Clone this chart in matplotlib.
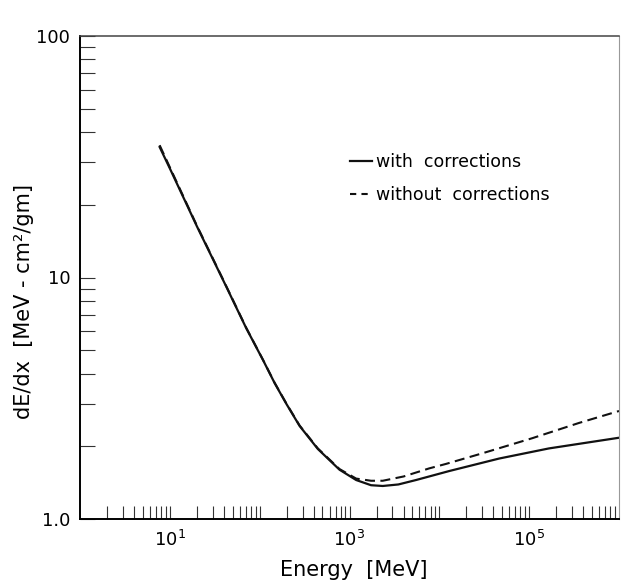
import numpy as np
import matplotlib as mpl
import matplotlib.pyplot as plt
from matplotlib.ticker import FixedLocator, FixedFormatter, NullFormatter

# values (log-log), energy in MeV, dE/dx in MeV-cm^2/gm
energy_with = [7.7, 10, 20, 40, 71, 109, 147, 198, 278, 444, 774, 1186, 1738, 2345,
               3500, 5500, 12900, 46400, 166000, 1e6]
dedx_with = [34.7, 28.3, 16.3, 9.6, 6.16, 4.55, 3.65, 3.0, 2.43, 1.95, 1.60, 1.45, 1.38, 1.37,
             1.39, 1.45, 1.58, 1.78, 1.96, 2.17]

energy_without = [7.7, 10, 20, 40, 71, 109, 147, 198, 278, 444, 774, 1186, 1738, 2345,
                  4000, 7700, 11800, 30000, 65000, 108000, 360000, 1e6]
dedx_without = [35.3, 28.6, 16.4, 9.65, 6.18, 4.56, 3.66, 3.01, 2.44, 1.96, 1.61, 1.47, 1.44, 1.44,
                1.50, 1.62, 1.69, 1.87, 2.04, 2.16, 2.50, 2.80]

x_major = [1e1, 1e3, 1e5]
x_major_labels = ['$10^{1}$', '$10^{3}$', '$10^{5}$']
y_major = [1, 10, 100]
y_major_labels = ['1.0', '10', '100']

plt.rcParams['font.family'] = ['DejaVu Sans']
plt.rcParams['mathtext.fontset'] = 'dejavusans'

fig = plt.figure(figsize=(6.21, 5.88), dpi=100)
ax = fig.add_axes([80/621, 69/588, 539/621, 483/588])

ax.plot(energy_with, dedx_with, color='#111111', lw=1.6, label='with  corrections')
ax.plot(energy_without, dedx_without, color='#111111', lw=1.5, dashes=(4.8, 2.6),
        label='without  corrections')

ax.set_xscale('log')
ax.set_yscale('log')
ax.set_xlim(1, 1e6)
ax.set_ylim(1, 100)

# ticks: all decades 2..9 as same-length inward ticks
x_minor = [m * 10**k for k in range(0, 6) for m in range(2, 11) if m * 10**k not in x_major and m * 10**k < 1e6]
y_minor = [m * 10**k for k in range(0, 2) for m in range(2, 10)]
ax.xaxis.set_major_locator(FixedLocator(x_major))
ax.xaxis.set_major_formatter(FixedFormatter(x_major_labels))
ax.xaxis.set_minor_locator(FixedLocator(x_minor))
ax.xaxis.set_minor_formatter(NullFormatter())
ax.yaxis.set_major_locator(FixedLocator(y_major))
ax.yaxis.set_major_formatter(FixedFormatter(y_major_labels))
ax.yaxis.set_minor_locator(FixedLocator(y_minor))
ax.yaxis.set_minor_formatter(NullFormatter())

ax.tick_params(axis='x', which='both', direction='in', length=9.4, width=0.8,
               color='#333333', labelsize=13, pad=8, top=False)
ax.tick_params(axis='y', which='both', direction='in', length=10.8, width=0.8,
               color='#333333', labelsize=13, pad=7, right=False)

ax.spines['left'].set_linewidth(1.4)
ax.spines['bottom'].set_linewidth(1.4)
ax.spines['top'].set_linewidth(1.1)
ax.spines['top'].set_color('#444444')
ax.spines['right'].set_linewidth(0.8)
ax.spines['right'].set_color('#999999')

ax.set_xlabel('Energy  [MeV]', fontsize=15)
ax.set_ylabel('dE/dx  [MeV - cm²/gm]', fontsize=15)
ax.xaxis.set_label_coords(0.508, -0.085)
ax.yaxis.set_label_coords(-0.085, 0.45)

leg = ax.legend(loc='upper left', bbox_to_anchor=(0.50, 0.757), frameon=False,
                fontsize=12.5, handlelength=1.3, handletextpad=0.25,
                labelspacing=0.85, borderpad=0, borderaxespad=0)
leg.get_lines()[1].set_dashes((3, 2.5))

plt.savefig('out.png', dpi=100)
